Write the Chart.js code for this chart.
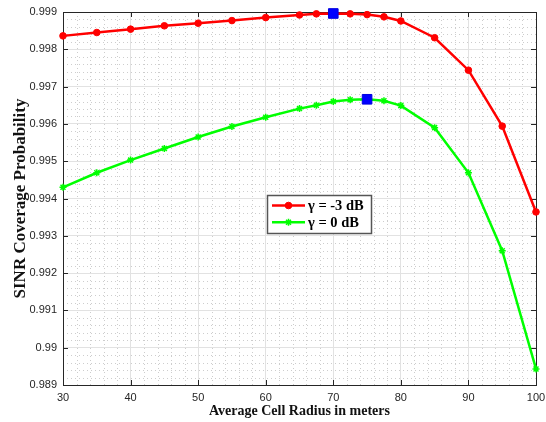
<!DOCTYPE html>
<html>
<head>
<meta charset="utf-8">
<script src="https://cdn.jsdelivr.net/npm/chart.js@4.4.1/dist/chart.umd.min.js"></script>
<style>
  body { margin: 0; background: #fff; }
  #wrap { width: 546px; height: 422px; }
</style>
</head>
<body>
<div id="wrap"><canvas id="coverageChart" width="546" height="422"></canvas></div>
<script>
// cell radius (m)
const radius = [30, 35, 40, 45, 50, 55, 60, 65, 67.5, 70, 72.5, 75, 77.5, 80, 85, 90, 95, 100];
// SINR coverage probability, gamma = -3 dB
const gammaMinus3 = [0.99836, 0.99845, 0.99854, 0.99863, 0.99870, 0.99877, 0.99885, 0.99892, 0.99895, 0.99896,
                     0.99895, 0.99893, 0.99887, 0.99876, 0.99831, 0.99744, 0.99594, 0.99364];
// SINR coverage probability, gamma = 0 dB
const gamma0 = [0.99430, 0.99469, 0.99503, 0.99534, 0.99565, 0.99593, 0.99618, 0.99641, 0.99650, 0.99660,
                0.99665, 0.99666, 0.99662, 0.99649, 0.99590, 0.99469, 0.99260, 0.98943];
// optimum points (blue squares)
const optimumX = [70, 75];
const optimumY = [0.99896, 0.99666];

const seriesLabels = ['\u03b3 = -3 dB', '\u03b3 = 0 dB'];
const xTicks = [30, 40, 50, 60, 70, 80, 90, 100];
const yTicks = [0.989, 0.99, 0.991, 0.992, 0.993, 0.994, 0.995, 0.996, 0.997, 0.998, 0.999];

const axisColor = '#262626';

function toPoints(xs, ys) {
    return xs.map((x, i) => ({ x: x, y: ys[i] }));
}

// dotted minor grid + box with inward ticks, under the data
const minorGrid = {
    id: 'minorGrid',
    beforeDatasetsDraw(chart) {
        const { ctx, chartArea: a, scales: { x, y } } = chart;
        ctx.save();
        ctx.strokeStyle = '#cdcdcd';
        ctx.lineWidth = 1;
        ctx.setLineDash([1, 3]);
        for (let v = x.min; v <= x.max + 1e-9; v += 2) {
            if (Math.abs(v % 10) < 1e-9) continue;
            const px = Math.round(x.getPixelForValue(v)) + 0.5;
            ctx.beginPath(); ctx.moveTo(px, a.top); ctx.lineTo(px, a.bottom); ctx.stroke();
        }
        for (let i = 0; i <= 50; i++) {
            if (i % 5 === 0) continue;
            const v = y.min + i * 0.0002;
            const py = Math.round(y.getPixelForValue(v)) + 0.5;
            ctx.beginPath(); ctx.moveTo(a.left, py); ctx.lineTo(a.right, py); ctx.stroke();
        }
        ctx.restore();

        ctx.save();
        ctx.strokeStyle = axisColor;
        ctx.lineWidth = 1;
        ctx.strokeRect(a.left + 0.5, a.top + 0.5, a.right - a.left, a.bottom - a.top);
        ctx.beginPath();
        x.ticks.forEach(t => {
            const px = Math.round(x.getPixelForValue(t.value)) + 0.5;
            ctx.moveTo(px, a.bottom); ctx.lineTo(px, a.bottom - 5);
            ctx.moveTo(px, a.top); ctx.lineTo(px, a.top + 5);
        });
        y.ticks.forEach(t => {
            const py = Math.round(y.getPixelForValue(t.value)) + 0.5;
            ctx.moveTo(a.left, py); ctx.lineTo(a.left + 5, py);
            ctx.moveTo(a.right, py); ctx.lineTo(a.right - 5, py);
        });
        ctx.stroke();
        ctx.restore();
    }
};

// legend box inside the plot
const boxLegend = {
    id: 'boxLegend',
    afterDraw(chart) {
        const ctx = chart.ctx;
        const left = 267, top = 195, w = 104, h = 38;
        ctx.save();
        ctx.fillStyle = '#fff';
        ctx.fillRect(left, top, w, h);
        ctx.strokeStyle = '#555';
        ctx.lineWidth = 1.5;
        ctx.strokeRect(left + 0.5, top + 0.5, w, h);
        chart.data.datasets.slice(0, 2).forEach((ds, i) => {
            const cy = top + 10.5 + i * 16.8;
            ctx.strokeStyle = ds.borderColor;
            ctx.fillStyle = ds.pointBackgroundColor;
            ctx.lineWidth = 2.5;
            ctx.beginPath(); ctx.moveTo(272, cy); ctx.lineTo(305, cy); ctx.stroke();
            ctx.lineWidth = ds.pointBorderWidth;
            Chart.helpers.drawPoint(ctx, {
                pointStyle: ds.pointStyle, radius: ds.pointRadius, borderWidth: ds.pointBorderWidth
            }, 288.5, cy);
            ctx.fillStyle = '#000';
            ctx.font = "bold 14.5px 'Liberation Serif', 'Times New Roman', serif";
            ctx.textBaseline = 'middle';
            ctx.fillText(ds.label, 308, cy + 1);
        });
        ctx.restore();
    }
};

new Chart(document.getElementById('coverageChart'), {
    type: 'line',
    data: {
        datasets: [
            {
                label: seriesLabels[0],
                data: toPoints(radius, gammaMinus3),
                borderColor: '#ff0000',
                backgroundColor: '#ff0000',
                pointBackgroundColor: '#ff0000',
                pointBorderColor: '#ff0000',
                borderWidth: 2.5,
                pointStyle: 'circle',
                pointRadius: 3.3,
                pointBorderWidth: 1,
                clip: false,
                order: 1
            },
            {
                label: seriesLabels[1],
                data: toPoints(radius, gamma0),
                borderColor: '#00ff00',
                backgroundColor: '#00ff00',
                pointBackgroundColor: '#00ff00',
                pointBorderColor: '#00ff00',
                borderWidth: 2.5,
                pointStyle: 'star',
                pointRadius: 3.5,
                pointBorderWidth: 1.5,
                clip: false,
                order: 2
            },
            {
                label: 'optimum',
                data: toPoints(optimumX, optimumY),
                showLine: false,
                pointStyle: 'rect',
                pointRadius: 6.8,
                pointBackgroundColor: '#0000ff',
                pointBorderColor: '#0000e0',
                pointBorderWidth: 1,
                clip: false,
                order: 0
            }
        ]
    },
    options: {
        responsive: false,
        animation: false,
        layout: { padding: { top: 12, right: 10, left: 0, bottom: 0 } },
        plugins: { legend: { display: false }, tooltip: { enabled: false } },
        scales: {
            x: {
                type: 'linear',
                min: 30,
                max: 100,
                afterBuildTicks: s => { s.ticks = xTicks.map(v => ({ value: v })); },
                afterFit: s => { s.height = 37; s.paddingLeft = 0; s.paddingRight = 0; },
                grid: { color: '#e2e2e2', lineWidth: 1, drawTicks: false },
                border: { display: false },
                ticks: {
                    padding: 6,
                    color: axisColor,
                    font: { family: "'Liberation Sans', Arial, sans-serif", size: 11 },
                    maxRotation: 0
                },
                title: {
                    display: true,
                    text: 'Average Cell Radius in meters',
                    color: '#111',
                    font: { family: "'Liberation Serif', 'Times New Roman', serif", size: 14, weight: 'bold' },
                    padding: { top: 0, bottom: 2 }
                }
            },
            y: {
                min: 0.989,
                max: 0.999,
                afterBuildTicks: s => { s.ticks = yTicks.map(v => ({ value: v })); },
                afterFit: s => { s.width = 63; s.paddingTop = 0; s.paddingBottom = 0; },
                grid: { color: '#e2e2e2', lineWidth: 1, drawTicks: false },
                border: { display: false },
                ticks: {
                    padding: 6,
                    color: axisColor,
                    font: { family: "'Liberation Sans', Arial, sans-serif", size: 11 },
                    callback: v => String(parseFloat(v.toFixed(3)))
                },
                title: {
                    display: true,
                    text: 'SINR Coverage Probability',
                    color: '#111',
                    font: { family: "'Liberation Serif', 'Times New Roman', serif", size: 17, weight: 'bold' },
                    padding: { top: 10, bottom: 0 }
                }
            }
        }
    },
    plugins: [minorGrid, boxLegend]
});
</script>
</body>
</html>
